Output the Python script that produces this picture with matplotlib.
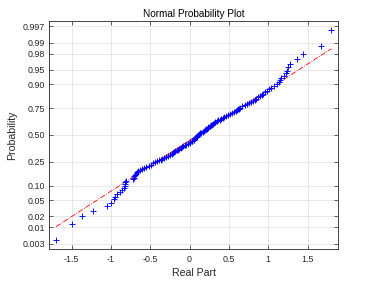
import matplotlib
matplotlib.use('Agg')
import matplotlib.pyplot as plt
import numpy as np
from statistics import NormalDist

# sorted sample values (real part)
real_part = [
    -1.70, -1.49, -1.37, -1.23, -1.045, -1.00, -0.965, -0.95, -0.92, -0.89,
    -0.86, -0.84, -0.825, -0.82, -0.815, -0.81, -0.72, -0.71, -0.705, -0.695,
    -0.685, -0.67, -0.65, -0.63, -0.60, -0.575, -0.55, -0.52, -0.495, -0.465,
    -0.44, -0.415, -0.39, -0.37, -0.345, -0.32, -0.295, -0.27, -0.25, -0.23,
    -0.215, -0.195, -0.18, -0.16, -0.145, -0.13, -0.115, -0.10, -0.08, -0.06,
    -0.04, -0.02, 0.00, 0.01, 0.025, 0.035, 0.05, 0.06, 0.07, 0.08,
    0.09, 0.10, 0.11,
    0.12, 0.135, 0.15, 0.165, 0.18, 0.19, 0.205, 0.215, 0.23, 0.24,
    0.255, 0.27, 0.285, 0.295, 0.31, 0.325, 0.345, 0.365, 0.385, 0.40,
    0.42, 0.44, 0.465, 0.49, 0.51, 0.54, 0.565, 0.59, 0.60, 0.615,
    0.625, 0.645, 0.67, 0.70, 0.73, 0.755, 0.78, 0.80, 0.83, 0.85,
    0.875, 0.895, 0.915, 0.935, 0.96, 0.985, 1.01, 1.035, 1.07, 1.105,
    1.135, 1.15, 1.165, 1.20, 1.225, 1.235, 1.25, 1.28, 1.36, 1.44,
    1.67, 1.80,
]

prob_ticks = [0.003, 0.01, 0.02, 0.05, 0.10, 0.25, 0.50, 0.75, 0.90, 0.95, 0.98, 0.99, 0.997]
prob_labels = ['0.003', '0.01', '0.02', '0.05', '0.10', '0.25', '0.50',
               '0.75', '0.90', '0.95', '0.98', '0.99', '0.997']
x_ticks = [-1.5, -1, -0.5, 0, 0.5, 1, 1.5]
x_labels = ['-1.5', '-1', '-0.5', '0', '0.5', '1', '1.5']

nd = NormalDist()
ppf = np.vectorize(nd.inv_cdf)

x = np.sort(np.array(real_part))
n = len(x)
y = ppf((np.arange(1, n + 1) - 0.5) / n)

# reference line through the quartiles (like MATLAB normplot)
q1, q3 = np.percentile(x, [25, 75], method='hazen')
z1, z3 = nd.inv_cdf(0.25), nd.inv_cdf(0.75)
slope = (z3 - z1) / (q3 - q1)
line_y = lambda v: z1 + slope * (v - q1)

plt.rcParams['font.family'] = ['Liberation Sans', 'DejaVu Sans']
axc = '#262626'

fig = plt.figure(figsize=(3.74, 2.83), dpi=100)
ax = fig.add_axes([0.131, 0.120, 0.773, 0.806])

ax.plot([x[0], q1], [line_y(x[0]), line_y(q1)], '-.', color='red', lw=0.6, zorder=2)
ax.plot([q3, x[-1]], [line_y(q3), line_y(x[-1])], '-.', color='red', lw=0.6, zorder=2)
ax.plot([q1, q3], [line_y(q1), line_y(q3)], '-', color='red', lw=0.6, zorder=2)
ax.plot(x, y, '+', color='blue', ms=5, mew=0.65, zorder=3)

rng = x[-1] - x[0]
ax.set_xlim(x[0] - 0.025 * rng, x[-1] + 0.025 * rng)
ylim = nd.inv_cdf(0.25 / n)
ax.set_ylim(ylim, -ylim)

ax.set_yticks(ppf(np.array(prob_ticks)))
ax.set_yticklabels(prob_labels)
ax.set_xticks(x_ticks)
ax.set_xticklabels(x_labels)

ax.grid(True, color='#dfdfdf', lw=0.5)
ax.set_axisbelow(True)
ax.tick_params(direction='in', length=3, width=0.5, colors=axc, labelsize=6.4,
               top=True, right=True, pad=3)
ax.tick_params(axis='x', pad=4.5)
for s in ax.spines.values():
    s.set_color(axc)
    s.set_linewidth(0.6)

ax.set_title('Normal Probability Plot', fontsize=7.2, color='black', pad=3)
ax.set_xlabel('Real Part', fontsize=7.6, color=axc, labelpad=3)
ax.set_ylabel('Probability', fontsize=7.6, color=axc, labelpad=4)

fig.savefig('out.png', dpi=100, facecolor='white')
